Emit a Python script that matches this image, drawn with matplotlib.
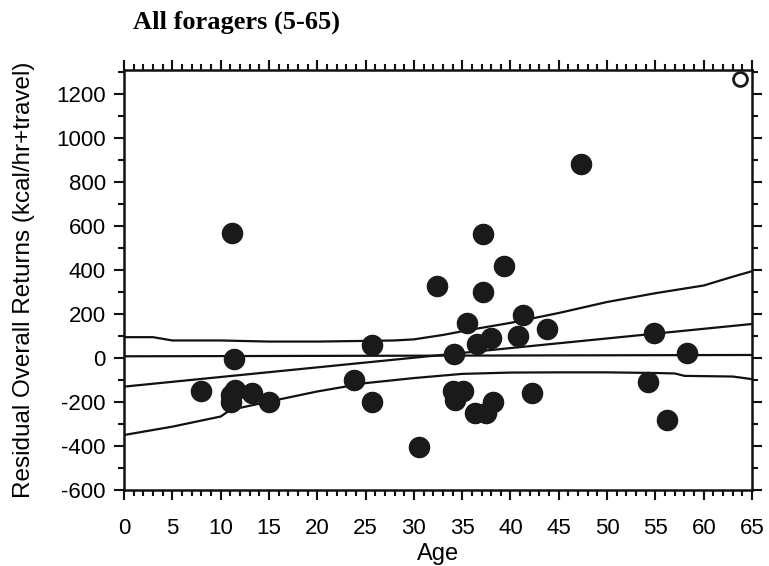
import matplotlib.pyplot as plt
from matplotlib.ticker import MultipleLocator

plt.rcParams['axes.unicode_minus'] = False

# data
age = [8.0, 11.2, 11.4, 11.5, 11.1, 13.2, 11.1, 15.0, 23.8, 25.7, 25.7, 30.5,
       32.4, 34.2, 34.1, 35.1, 34.3, 35.5, 37.2, 39.3, 37.2, 41.3, 43.8, 36.5,
       38.0, 40.8, 36.3, 37.5, 38.2, 42.2, 47.3, 54.9, 58.3, 54.2, 56.2]
resid = [-152, 570, -5, -145, -167, -160, -198, -200, -99, 61, -198, -405,
         326, 20, -152, -152, -190, 160, 565, 418, 299, 197, 132, 65,
         91, 102, -248, -248, -198, -157, 881, 114, 23, -107, -281]

outlier_age = [63.7]
outlier_resid = [1270]

fit_x = [0, 65]
fit_y = [-130, 155]

mean_x = [0, 65]
mean_y = [8, 14]

upper_x = [0, 3, 5, 10, 15, 20, 25, 28, 30, 33, 36, 40, 45, 50, 55, 60, 63, 65]
upper_y = [95, 95, 80, 80, 75, 75, 78, 80, 85, 105, 130, 160, 205, 255, 295, 330, 370, 395]

lower_x = [0, 5, 10, 11, 15, 20, 25, 30, 35, 40, 45, 50, 55, 57, 58, 63, 65]
lower_y = [-350, -312, -266, -236, -198, -152, -114, -91, -72, -66, -65, -65, -68, -70, -81, -84, -96]

fig = plt.figure(figsize=(7.69, 5.66), dpi=100)
ax = fig.add_axes([0.1612, 0.1343, 0.8168, 0.742])

ax.plot(mean_x, mean_y, color='#111111', lw=1.6)
ax.plot(fit_x, fit_y, color='#111111', lw=1.6)
ax.plot(upper_x, upper_y, color='#111111', lw=1.6)
ax.plot(lower_x, lower_y, color='#111111', lw=1.6)

ax.plot(age, resid, 'o', ms=14.5, color='#1a1a1a', mec='#1a1a1a', zorder=3)
ax.plot(outlier_age, outlier_resid, 'o', ms=10, mfc='white', mec='#1a1a1a', mew=2, zorder=3)

ax.set_xlim(0, 65)
ax.set_ylim(-600, 1310)

ax.xaxis.set_major_locator(MultipleLocator(5))
ax.xaxis.set_minor_locator(MultipleLocator(1))
ax.yaxis.set_major_locator(MultipleLocator(200))
ax.yaxis.set_minor_locator(MultipleLocator(100))

ax.tick_params(which='both', direction='out', top=True, right=True,
               labeltop=False, labelright=False, width=1.5, color='#111111')
ax.tick_params(which='major', length=7, labelsize=16, pad=6)
ax.tick_params(which='minor', length=4)
ax.tick_params(axis='x', which='major', pad=13)

for s in ax.spines.values():
    s.set_linewidth(1.8)
    s.set_color('#111111')

for lab in ax.get_xticklabels() + ax.get_yticklabels():
    lab.set_family('Liberation Sans')

ax.set_xlabel('Age', fontsize=17, family='Liberation Sans', labelpad=3)
ax.set_ylabel('Residual Overall Returns (kcal/hr+travel)', fontsize=17.5,
              family='Liberation Sans', labelpad=15)

fig.text(0.173, 0.96, 'All foragers (5-65)', fontsize=19, fontweight='bold',
         family='Liberation Serif', va='center', ha='left')

fig.savefig('out.png', dpi=100)
